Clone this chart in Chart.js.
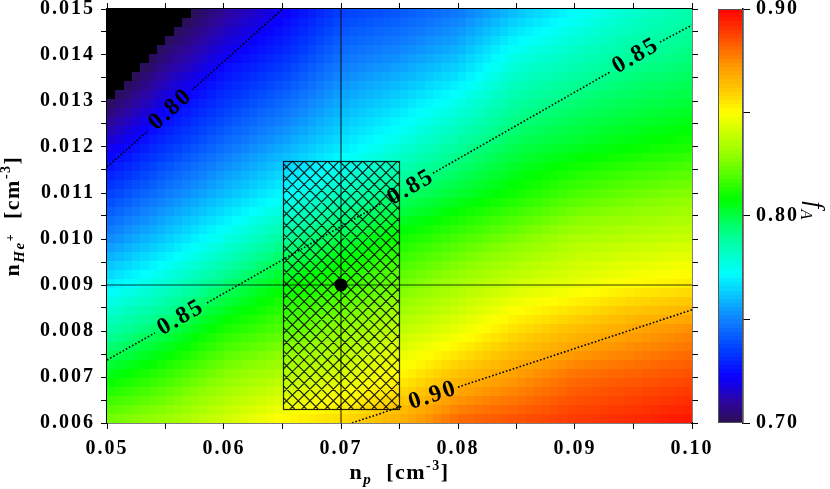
<!DOCTYPE html>
<html>
<head>
<meta charset="utf-8">
<script src="https://cdn.jsdelivr.net/npm/chart.js@4/dist/chart.umd.min.js"></script>
<style>
  html, body { margin: 0; padding: 0; background: #fff; }
  #wrap { position: relative; width: 830px; height: 489px; overflow: hidden;
          font-family: "Liberation Serif", "Times New Roman", serif; }
  canvas { position: absolute; top: 0; }
  .ttl { position: absolute; font-weight: bold; font-size: 22px; line-height: 24px;
         white-space: nowrap; text-align: center; letter-spacing: 1.5px; color: #000; }
  .sub { font-style: italic; font-size: 15px; position: relative; top: 5px; }
  .sup { font-size: 14px; position: relative; top: -9px; }
  .sup2 { font-size: 12px; position: relative; top: -10px; font-style: normal; }
</style>
</head>
<body>
<div id="wrap">
  <canvas id="main" width="830" height="489"></canvas>
  <canvas id="cbar" width="112" height="489" style="left:718px"></canvas>
  <div class="ttl" style="left:107px; width:585px; top:460px;">n<span class="sub">p</span>&nbsp;&nbsp;[cm<span class="sup">-3</span>]</div>
  <div class="ttl" style="left:-195px; top:204px; width:414px; height:24px; transform:rotate(-90deg);">n<span class="sub">He<span class="sup2">+</span></span>&nbsp;&nbsp;[cm<span class="sup">-3</span>]</div>
  <div class="ttl" style="left:782px; top:196px; width:60px; height:30px; font-weight:normal; font-style:italic; font-size:25px; transform:rotate(90deg);">f<span style="font-size:16px; position:relative; top:6px;">A</span></div>
</div>
<script>
// 격자 좌표 (n_p, n_He+)
const npGrid = [0.050, 0.055, 0.060, 0.065, 0.070, 0.075, 0.080, 0.085, 0.090, 0.095, 0.100];
const nheGrid = [0.006, 0.007, 0.008, 0.009, 0.010, 0.011, 0.012, 0.013, 0.014, 0.015];

// f_A 값, 행 = nheGrid, 열 = npGrid (그림 색에서 읽은 값)
const fA = [
  [0.826, 0.832, 0.842, 0.852, 0.858, 0.868, 0.882, 0.886, 0.890, 0.893, 0.897],
  [0.806, 0.816, 0.828, 0.836, 0.843, 0.852, 0.864, 0.872, 0.880, 0.883, 0.886],
  [0.787, 0.798, 0.812, 0.820, 0.829, 0.838, 0.846, 0.857, 0.864, 0.870, 0.875],
  [0.769, 0.780, 0.794, 0.807, 0.815, 0.824, 0.833, 0.841, 0.846, 0.851, 0.854],
  [0.751, 0.763, 0.776, 0.789, 0.800, 0.810, 0.818, 0.826, 0.834, 0.837, 0.840],
  [0.735, 0.748, 0.760, 0.771, 0.783, 0.794, 0.802, 0.810, 0.818, 0.823, 0.827],
  [0.718, 0.733, 0.746, 0.757, 0.768, 0.778, 0.789, 0.799, 0.804, 0.808, 0.812],
  [0.700, 0.719, 0.733, 0.744, 0.757, 0.765, 0.775, 0.788, 0.794, 0.798, 0.801],
  [0.683, 0.705, 0.720, 0.731, 0.746, 0.752, 0.760, 0.776, 0.783, 0.789, 0.793],
  [0.666, 0.692, 0.708, 0.720, 0.735, 0.740, 0.747, 0.760, 0.771, 0.780, 0.786],
];

// 축 눈금 레이블
const xTickLabels = [0.05, 0.06, 0.07, 0.08, 0.09, 0.10];
const yTickLabels = [0.006, 0.007, 0.008, 0.009, 0.010, 0.011, 0.012, 0.013, 0.014, 0.015];
const cbTicks = [0.70, 0.75, 0.80, 0.85, 0.90];
const cbTickLabels = [0.70, 0.80, 0.90];

// 등고선 (점선), null = 레이블 자리
const contours = [
  { label: "0.80", pts: [[0.050, 0.01157], [0.0535, 0.01235], null, [0.05726, 0.01324], [0.065, 0.0150]],
    labelAt: [[0.05538, 0.0128]] },
  { label: "0.85", pts: [[0.050, 0.00737], [0.0541, 0.00796], null, [0.05855, 0.00861], [0.0735, 0.01078], null,
                         [0.07786, 0.01143], [0.0930, 0.01363], null, [0.09726, 0.01428], [0.100, 0.01465]],
    labelAt: [[0.05624, 0.00828], [0.0759, 0.01111], [0.09513, 0.01397]] },
  { label: "0.90", pts: [[0.07094, 0.0060], [0.0753, 0.00637], null, [0.0800, 0.00678], [0.100, 0.00846]],
    labelAt: [[0.07778, 0.00659]] },
];

// 기준점과 불확실성 범위
const centerPoint = [0.070, 0.009];
const boxX = [0.065, 0.075];
const boxY = [0.0063, 0.0117];

// 색상표 (0.70 미만은 검정)
const cmapStops = [
  [0.700, [42, 16, 80]], [0.710, [45, 5, 160]], [0.722, [10, 0, 255]], [0.735, [0, 60, 255]],
  [0.750, [15, 130, 255]], [0.772, [0, 255, 255]], [0.790, [0, 255, 150]], [0.808, [0, 255, 0]],
  [0.828, [140, 255, 0]], [0.850, [255, 255, 0]], [0.861, [255, 200, 0]], [0.872, [255, 155, 0]],
  [0.886, [255, 75, 0]], [0.900, [255, 0, 0]],
];

function colorFor(v) {
  if (v < cmapStops[0][0]) return "rgb(0,0,0)";
  for (let k = 1; k < cmapStops.length; k++) {
    const [v1, c1] = cmapStops[k];
    const [v0, c0] = cmapStops[k - 1];
    if (v <= v1) {
      const t = (v - v0) / (v1 - v0);
      const c = c0.map((a, i) => Math.round(a + (c1[i] - a) * t));
      return `rgb(${c[0]},${c[1]},${c[2]})`;
    }
  }
  return "rgb(255,0,0)";
}

function sample(xv, yv) {
  const fi = (xv - npGrid[0]) / (npGrid[1] - npGrid[0]);
  const fj = (yv - nheGrid[0]) / (nheGrid[1] - nheGrid[0]);
  const i = Math.min(Math.max(Math.floor(fi), 0), npGrid.length - 2);
  const j = Math.min(Math.max(Math.floor(fj), 0), nheGrid.length - 2);
  const tx = fi - i, ty = fj - j;
  const a = fA[j][i] * (1 - tx) + fA[j][i + 1] * tx;
  const b = fA[j + 1][i] * (1 - tx) + fA[j + 1][i + 1] * tx;
  return a * (1 - ty) + b * ty;
}

const inList = (v, list) => list.some((t) => Math.abs(t - v) < 1e-9);

const FONT = '"Liberation Serif", "Times New Roman", serif';
Chart.defaults.font = { family: FONT, size: 20, weight: "bold" };
Chart.defaults.color = "#000";

const spacing = {
  id: "spacing",
  beforeDraw(chart) { chart.ctx.letterSpacing = "2px"; },
};

const heatmap = {
  id: "heatmap",
  beforeDatasetsDraw(chart) {
    const { ctx, scales: { x, y } } = chart;
    const nx = 70, ny = 46;
    const x0 = npGrid[0], x1 = npGrid[npGrid.length - 1];
    const y0 = nheGrid[0], y1 = nheGrid[nheGrid.length - 1];
    for (let i = 0; i < nx; i++) {
      const xa = x0 + (x1 - x0) * i / nx, xb = x0 + (x1 - x0) * (i + 1) / nx;
      const pa = Math.round(x.getPixelForValue(xa)), pb = Math.round(x.getPixelForValue(xb));
      for (let j = 0; j < ny; j++) {
        const ya = y0 + (y1 - y0) * j / ny, yb = y0 + (y1 - y0) * (j + 1) / ny;
        const qa = Math.round(y.getPixelForValue(ya)), qb = Math.round(y.getPixelForValue(yb));
        ctx.fillStyle = colorFor(sample((xa + xb) / 2, (ya + yb) / 2));
        ctx.fillRect(pa, qb, pb - pa, qa - qb);
      }
    }

    // 빗금 친 사각형
    const l = Math.round(x.getPixelForValue(boxX[0])), r = Math.round(x.getPixelForValue(boxX[1]));
    const t = Math.round(y.getPixelForValue(boxY[1])), b = Math.round(y.getPixelForValue(boxY[0]));
    const w = r - l, h = b - t, step = 11.7;
    ctx.save();
    ctx.beginPath();
    ctx.rect(l, t, w, h);
    ctx.clip();
    ctx.strokeStyle = "rgba(0,0,0,0.85)";
    ctx.lineWidth = 1.2;
    ctx.beginPath();
    for (let k = -h; k < w + h; k += step) {
      ctx.moveTo(l + k, t); ctx.lineTo(l + k + h, t + h);
      ctx.moveTo(l + k, t); ctx.lineTo(l + k - h, t + h);
    }
    ctx.stroke();
    ctx.restore();
    ctx.strokeStyle = "rgba(0,0,0,0.85)";
    ctx.lineWidth = 1.2;
    ctx.strokeRect(l + 0.5, t + 0.5, w, h);
  },
  afterDatasetsDraw(chart) {
    const { ctx, scales: { x, y } } = chart;
    contours.forEach((c) => {
      const pts = c.pts.filter(Boolean);
      const a = pts[0], z = pts[pts.length - 1];
      const ang = Math.atan2(y.getPixelForValue(z[1]) - y.getPixelForValue(a[1]),
                             x.getPixelForValue(z[0]) - x.getPixelForValue(a[0]));
      c.labelAt.forEach(([lx, ly]) => {
        ctx.save();
        ctx.translate(x.getPixelForValue(lx), y.getPixelForValue(ly));
        ctx.rotate(ang);
        ctx.font = `bold 24px ${FONT}`;
        ctx.letterSpacing = "2px";
        ctx.fillStyle = "#000";
        ctx.textAlign = "center";
        ctx.textBaseline = "middle";
        ctx.fillText(c.label, 1, 0);
        ctx.restore();
      });
    });
  },
};

// 등고선 구간별 데이터셋
const contourSets = [];
contours.forEach((c) => {
  let seg = [];
  c.pts.concat([null]).forEach((p) => {
    if (p) { seg.push({ x: p[0], y: p[1] }); return; }
    if (seg.length) {
      contourSets.push({ data: seg, showLine: true, borderColor: "#000", borderWidth: 1.6,
                         borderDash: [1.6, 2.0], pointRadius: 0 });
    }
    seg = [];
  });
});

// 눈금 레이블이 그림 영역을 밀어내지 않도록 여백을 0으로 둔다
const noPad = (s) => { s.paddingTop = 0; s.paddingBottom = 0; s.paddingLeft = 0; s.paddingRight = 0; };

const tickAxis = (pos, min, max, step, labels, digits, size, pad) => ({
  type: "linear",
  position: pos,
  min, max,
  ticks: {
    stepSize: step,
    autoSkip: false,
    maxRotation: 0,
    padding: pad,
    callback: (v) => (labels && inList(v, labels) ? v.toFixed(digits) : ""),
  },
  grid: { drawOnChartArea: false, tickLength: 6, color: "#000", lineWidth: 1 },
  border: { color: "#000", width: 1.5 },
  afterFit: (s) => {
    if (pos === "top" || pos === "bottom") s.height = size; else s.width = size;
    noPad(s);
  },
});

new Chart(document.getElementById("main"), {
  type: "scatter",
  data: {
    datasets: [
      ...contourSets,
      { data: [{ x: centerPoint[0], y: nheGrid[0] }, { x: centerPoint[0], y: nheGrid[nheGrid.length - 1] }],
        showLine: true, borderColor: "rgba(0,0,0,0.75)", borderWidth: 1.2, pointRadius: 0 },
      { data: [{ x: npGrid[0], y: centerPoint[1] }, { x: npGrid[npGrid.length - 1], y: centerPoint[1] }],
        showLine: true, borderColor: "rgba(0,0,0,0.75)", borderWidth: 1.2, pointRadius: 0 },
      { data: [{ x: centerPoint[0], y: centerPoint[1] }], pointRadius: 6.5, backgroundColor: "#000",
        borderColor: "#000", borderWidth: 0 },
    ],
  },
  options: {
    responsive: false,
    devicePixelRatio: 1,
    animation: false,
    layout: { padding: 0, autoPadding: false },
    plugins: { legend: { display: false }, tooltip: { enabled: false } },
    scales: {
      x: tickAxis("bottom", 0.05, 0.10, 0.005, xTickLabels, 2, 66, 8),
      x2: tickAxis("top", 0.05, 0.10, 0.005, null, 2, 9, 0),
      y: tickAxis("left", 0.006, 0.015, 0.0005, yTickLabels, 3, 107, 6),
      y2: tickAxis("right", 0.006, 0.015, 0.0005, null, 3, 138, 0),
    },
  },
  plugins: [spacing, heatmap],
});

// 색상 막대
const colorbar = {
  id: "colorbar",
  beforeDatasetsDraw(chart) {
    const { ctx, chartArea: a, scales: { y } } = chart;
    const lo = cbTicks[0], hi = cbTicks[cbTicks.length - 1], n = 100;
    for (let k = 0; k < n; k++) {
      const va = lo + (hi - lo) * k / n, vb = lo + (hi - lo) * (k + 1) / n;
      const qa = Math.round(y.getPixelForValue(va)), qb = Math.round(y.getPixelForValue(vb));
      ctx.fillStyle = colorFor((va + vb) / 2);
      ctx.fillRect(a.left, qb, a.right - a.left, qa - qb);
    }
    ctx.strokeStyle = "#555";
    ctx.lineWidth = 1;
    ctx.strokeRect(a.left + 0.5, a.top + 0.5, a.right - a.left - 1, a.bottom - a.top - 1);
  },
};

new Chart(document.getElementById("cbar"), {
  type: "scatter",
  data: { datasets: [] },
  options: {
    responsive: false,
    devicePixelRatio: 1,
    animation: false,
    layout: { padding: { top: 9, bottom: 66, left: 0, right: 0 }, autoPadding: false },
    plugins: { legend: { display: false }, tooltip: { enabled: false } },
    scales: {
      x: { display: false, min: 0, max: 1 },
      y: {
        type: "linear",
        position: "right",
        min: cbTicks[0],
        max: cbTicks[cbTicks.length - 1],
        afterBuildTicks: (s) => { s.ticks = cbTicks.map((v) => ({ value: v })); },
        ticks: { padding: 6, callback: (v) => (inList(v, cbTickLabels) ? v.toFixed(2) : "") },
        grid: { drawOnChartArea: false, tickLength: 7, color: "#000", lineWidth: 1 },
        border: { color: "#000", width: 1.5 },
        afterFit: (s) => { s.width = 87; noPad(s); },
      },
    },
  },
  plugins: [spacing, colorbar],
});
</script>
</body>
</html>
